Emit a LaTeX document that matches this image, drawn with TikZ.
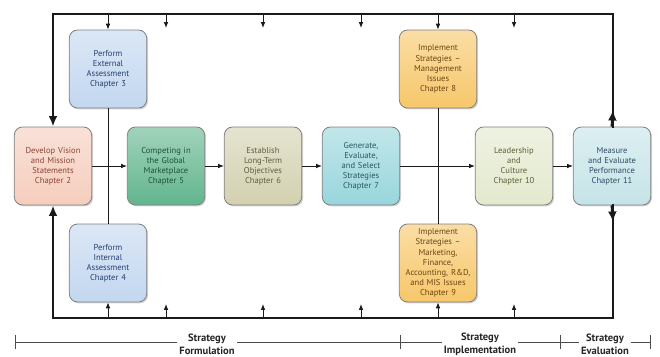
\documentclass[tikz,border=0pt]{standalone}
\usepackage{fontspec}
\setmainfont{PT Sans}
\usepackage[dvipsnames]{xcolor}
\definecolor{VISIONcolor}{HTML}{f5cdbd}
\definecolor{VISIONtext}{HTML}{8a4636}
\definecolor{ASSESScolor}{HTML}{c3d7f0}
\definecolor{ASSESStext}{HTML}{24406e}
\definecolor{GLOBALcolor}{HTML}{62b58e}
\definecolor{GLOBALtext}{HTML}{1d5234}
\definecolor{OBJcolor}{HTML}{d3d1b0}
\definecolor{OBJtext}{HTML}{5e5e40}
\definecolor{GENcolor}{HTML}{98d6dc}
\definecolor{GENtext}{HTML}{2a5666}
\definecolor{IMPLcolor}{HTML}{f7c76a}
\definecolor{IMPLtext}{HTML}{6a4612}
\definecolor{LEADcolor}{HTML}{e3e9ce}
\definecolor{LEADtext}{HTML}{5e5e34}
\definecolor{EVALcolor}{HTML}{c6e4e8}
\definecolor{EVALtext}{HTML}{2c4c66}
\definecolor{FRAMEcolor}{HTML}{1a1a1a}
\usepackage{tikz}
\usetikzlibrary{math,arrows.meta,shadows}

\tikzset{
    box/.style={rounded corners=7pt, draw=black!50, line width=0.7pt,
        minimum width=2.31cm, minimum height=2.34cm, inner sep=1pt,
        text width=2.25cm, align=center,
        font=\fontsize{7.3}{8.6}\selectfont,
        drop shadow={opacity=0.35, shadow xshift=1.2pt, shadow yshift=-1.2pt}},
    chapbox/.style n args={2}{box, top color=#1!60!white, bottom color=#1, text=#2},
    thickline/.style={line width=2.4pt, FRAMEcolor},
    thinline/.style={line width=0.8pt, FRAMEcolor},
    thinarrow/.style={thinline, -{Latex[length=5pt,width=4pt]}},
    bigtip/.style={-{Latex[length=9pt,width=7.5pt]}},
    stagelabel/.style={fill=white, inner sep=2pt, align=center,
        font=\bfseries\fontsize{9}{11}\selectfont, text=black!85},
}

\begin{document}
\begin{tikzpicture}[x=0.03cm, y=-0.03cm]
    \tikzmath{%
        \ytop=14;
        \ybot=318;
        \xleft=53;
        \xright=613;
        \yscale=342;
    };
    \useasboundingbox (0, 0) rectangle (660, 356);

    % boxes
    \node [chapbox={VISIONcolor}{VISIONtext}] (vision) at (53, 166)
        {Develop Vision\\and Mission\\Statements\\Chapter 2};
    \node [chapbox={ASSESScolor}{ASSESStext}] (external) at (108, 69)
        {Perform\\External\\Assessment\\Chapter 3};
    \node [chapbox={ASSESScolor}{ASSESStext}] (internal) at (108, 263)
        {Perform\\Internal\\Assessment\\Chapter 4};
    \node [chapbox={GLOBALcolor}{GLOBALtext}] (global) at (166, 166)
        {Competing in\\the Global\\Marketplace\\Chapter 5};
    \node [chapbox={OBJcolor}{OBJtext}] (objectives) at (263, 166)
        {Establish\\Long-Term\\Objectives\\Chapter 6};
    \node [chapbox={GENcolor}{GENtext}] (generate) at (361, 166)
        {Generate,\\Evaluate,\\and Select\\Strategies\\Chapter 7};
    \node [chapbox={IMPLcolor}{IMPLtext}] (management) at (438, 69)
        {Implement\\Strategies --\\Management\\Issues\\Chapter 8};
    \node [chapbox={IMPLcolor}{IMPLtext}] (marketing) at (438, 263)
        {Implement\\Strategies --\\Marketing,\\Finance,\\Accounting, R\&D,\\and MIS Issues\\Chapter 9};
    \node [chapbox={LEADcolor}{LEADtext}] (leadership) at (514, 166)
        {Leadership\\and\\Culture\\Chapter 10};
    \node [chapbox={EVALcolor}{EVALtext}] (measure) at (612, 166)
        {Measure\\and Evaluate\\Performance\\Chapter 11};

    % feedback frame
    \coordinate (topleft) at (\xleft, \ytop);
    \coordinate (topright) at (\xright, \ytop);
    \coordinate (botleft) at (\xleft, \ybot);
    \coordinate (botright) at (\xright, \ybot);
    \coordinate (uptip) at (\xright, 110);
    \coordinate (downtip) at (\xright, 222);
    \draw [thickline, bigtip] (measure.north) -| (topright) -- (topleft) -- (vision.north);
    \draw [thickline, bigtip] (measure.south) -| (botright) -- (botleft) -- (vision.south);
    \draw [thickline, bigtip] (measure.north) -- (uptip);
    \draw [thickline, bigtip] (measure.south) -- (downtip);

    % small arrows from the frame
    \foreach \x in {166, 263, 361, 514} {%
            \coordinate (t\x) at (\x, \ytop);
            \coordinate (te\x) at (\x, 28);
            \coordinate (b\x) at (\x, \ybot);
            \coordinate (be\x) at (\x, 304);
            \draw [thinarrow] (t\x) -- (te\x);
            \draw [thinarrow] (b\x) -- (be\x);
        }
    \coordinate (text) at (108, \ytop);
    \coordinate (bint) at (108, \ybot);
    \coordinate (tman) at (438, \ytop);
    \coordinate (bmar) at (438, \ybot);
    \draw [thinarrow] (text) -- (external.north);
    \draw [thinarrow] (bint) -- (internal.south);
    \draw [thinarrow] (tman) -- (management.north);
    \draw [thinarrow] (bmar) -- (marketing.south);

    % links
    \draw [thinline] (external) -- (internal);
    \draw [thinline] (management) -- (marketing);
    \draw [thinarrow] (vision) -- (global);
    \draw [thinarrow] (global) -- (objectives);
    \draw [thinarrow] (objectives) -- (generate);
    \draw [thinarrow] (generate) -- (leadership);
    \draw [thinarrow] (leadership) -- (measure);

    % stages
    \coordinate (s0) at (15, \yscale);
    \coordinate (s1) at (400, \yscale);
    \coordinate (s2) at (560, \yscale);
    \coordinate (s3) at (650, \yscale);
    \draw [thinline, black!70] (s0) -- (s3);
    \foreach \p in {s0, s1, s2, s3} {%
            \draw [thinline, black!70] (\p) ++(0, -7) -- ++(0, 14);
        }
    \node [stagelabel] (formulation) at (207, 344) {Strategy\\Formulation};
    \node [stagelabel] (implementation) at (480, 344) {Strategy\\Implementation};
    \node [stagelabel] (evaluation) at (605, 344) {Strategy\\Evaluation};

\end{tikzpicture}
\end{document}
